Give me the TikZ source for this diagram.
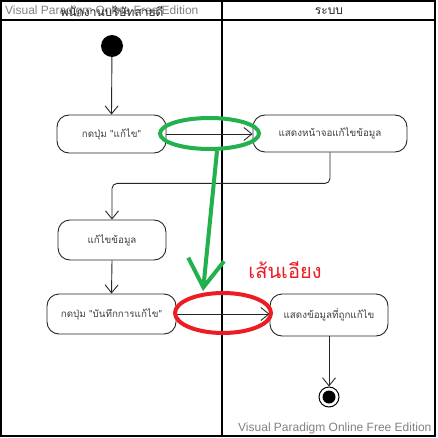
\documentclass[tikz,border=0pt]{standalone}
\usepackage{fontspec}
\setmainfont{Liberation Sans}
\newfontfamily\thai[Script=Thai]{Loma}
\usetikzlibrary{arrows.meta,shapes.geometric}
\definecolor{mkgreen}{RGB}{34,177,76}
\definecolor{mkred}{RGB}{237,28,36}
\definecolor{wm}{RGB}{130,130,130}
\tikzset{
  act/.style={draw=black!85, line width=0.9pt, rounded corners=12pt, align=center,
    font=\thai\fontsize{9.8}{12}\selectfont, text=black!75, inner sep=0pt},
  flow/.style={draw=black!85, line width=0.9pt, -{Straight Barb[length=8pt,width=13pt,line width=0.9pt]}},
  lane/.style={draw=black, line width=2pt},
  watermark/.style={font=\fontsize{12}{14}\selectfont, text=wm, anchor=west, inner sep=0pt},
  hdr/.style={font=\thai\fontsize{12}{14}\selectfont, text=black!85, inner sep=0pt},
  hilite/.style={line width=4pt}
}
\begin{document}
\begin{tikzpicture}[x=1pt,y=-1pt]
\useasboundingbox (0,0) rectangle (437,438);
\fill[white] (0,0) rectangle (437,438);
% swimlanes
\draw[lane] (1,1) rectangle (435,436);
\draw[black, line width=1.5pt] (1,20) -- (435,20);
\draw[lane] (222,1) -- (222,436);
% watermarks and headers
\node[watermark] (wm1) at (5,11) {Visual Paradigm Online Free Edition};
\node[hdr] (h1) at (112,11) {พนักงานบริษัทสายดี};
\node[hdr] (h2) at (329,11) {ระบบ};
\node[watermark] (wm2) at (238,428) {Visual Paradigm Online Free Edition};
% nodes
\node[circle, fill=black, minimum size=22pt, inner sep=0pt] (start) at (112,46) {};
\node[act, minimum width=109pt, minimum height=38pt] (b1) at (111.5,134) {กดปุ่ม "แก้ไข"};
\node[act, minimum width=154pt, minimum height=37pt] (b2) at (330,133.5) {แสดงหน้าจอแก้ไขข้อมูล};
\node[act, minimum width=108pt, minimum height=40pt] (b3) at (112,240) {แก้ไขข้อมูล};
\node[act, minimum width=129pt, minimum height=40pt] (b4) at (111.5,314) {กดปุ่ม "บันทึกการแก้ไข"};
\node[act, minimum width=118pt, minimum height=42pt] (b5) at (329,315) {แสดงข้อมูลที่ถูกแก้ไข};
\node[circle, draw=black, line width=1pt, minimum size=20pt, inner sep=0pt] (end) at (329,397) {};
\node[circle, fill=black, minimum size=13pt, inner sep=0pt] (endin) at (329,397) {};
% flows
\draw[flow] (start) -- (b1.north);
\draw[flow] (b1.east) -- (b2.west |- b1.east);
\draw[flow, rounded corners=5pt] (b2.south) -- ++(0,31) -| (b3.north);
\draw[flow] (b3.south) -- (b4.north);
\draw[flow] (b4.east) -- (b5.west |- b4.east);
\draw[flow] (b5.south) -- (end.north);
% annotations
\node[ellipse, draw=mkgreen, hilite, minimum width=99pt, minimum height=31pt, inner sep=0pt] (gell) at (209.5,133.5) {};
\node[ellipse, draw=mkred, hilite, minimum width=96pt, minimum height=40pt, inner sep=0pt] (rell) at (223,313) {};
\coordinate (gtip) at (203,291);
\draw[mkgreen, hilite, -{Straight Barb[length=28pt,width=36pt,line width=4pt]}] (217,151) -- (gtip);
\node[font=\thai\fontsize{20}{22}\selectfont, text=mkred, inner sep=0pt] (lbl) at (285,270) {เส้นเอียง};
\end{tikzpicture}
\end{document}
